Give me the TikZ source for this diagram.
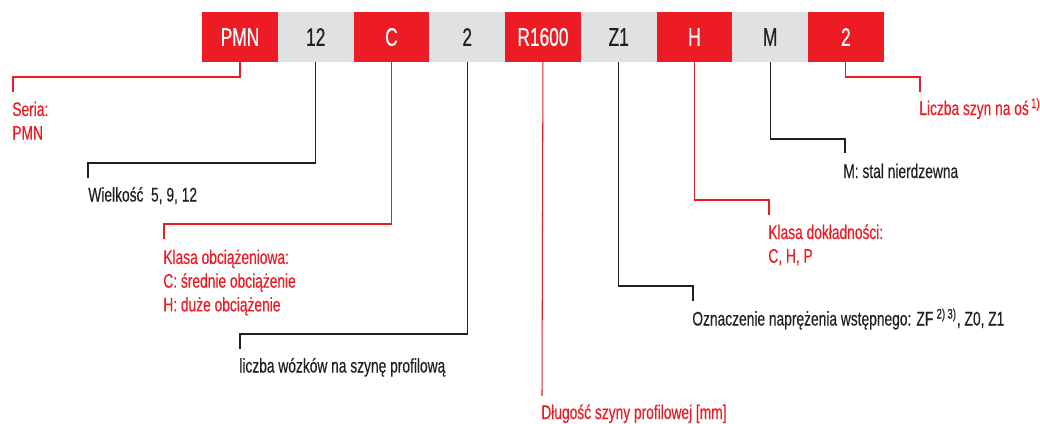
\documentclass[tikz,border=0pt]{standalone}
\usepackage{fontspec}
\setmainfont[FakeStretch=0.70,FakeBold=0.4]{Liberation Sans}
\newfontfamily\boxfont[FakeStretch=0.68,FakeBold=0.4]{Liberation Sans}
\usetikzlibrary{positioning}
\definecolor{codered}{RGB}{237,28,36}
\definecolor{codegrey}{RGB}{224,225,227}
\definecolor{codeink}{RGB}{35,31,32}

\begin{document}
\begin{tikzpicture}[x=0.02cm,y=-0.02cm,
  codebox/.style={minimum width=1.515cm,minimum height=1.0cm,inner sep=0pt,outer sep=0pt,
    font=\boxfont\fontsize{14.5}{16}\selectfont},
  redbox/.style={codebox,fill=codered,text=white},
  greybox/.style={codebox,fill=codegrey,text=codeink},
  redline/.style={codered,line width=0.6pt},
  inkline/.style={codeink,line width=0.6pt},
  lbl/.style={anchor=base west,inner sep=0pt,align=left,
    font=\fontsize{11.2}{13.5}\selectfont},
  redlbl/.style={lbl,text=codered},
  inklbl/.style={lbl,text=codeink}]
  \useasboundingbox (0,0) rectangle (1040,423);

  % the code boxes
  \node[redbox] (pmn) at (240,37) {PMN};
  \node[greybox,right=0pt of pmn] (size) {12};
  \node[redbox,right=0pt of size] (load) {C};
  \node[greybox,right=0pt of load] (cars) {2};
  \node[redbox,right=0pt of cars] (rail) {R1600};
  \node[greybox,right=0pt of rail] (pre) {Z1};
  \node[redbox,right=0pt of pre] (acc) {H};
  \node[greybox,right=0pt of acc] (mat) {M};
  \node[redbox,right=0pt of mat] (rails) {2};

  % line ends
  \coordinate (e1) at (13,92);
  \coordinate (e2) at (88,178);
  \coordinate (e3) at (164,239);
  \coordinate (e4) at (240,349);
  \coordinate (e5) at (542,396);
  \coordinate (e6) at (693,301);
  \coordinate (e7) at (769,215);
  \coordinate (e8) at (845,153);
  \coordinate (e9) at (920,92);

  % labels (base = last line)
  \node[redlbl] (seria) at (12,139.7) {Seria:\\PMN};
  \node[inklbl] (wielk) at (88,201.5) {Wielkość\ \ 5, 9, 12};
  \node[redlbl] (klasa) at (163,311.4) {Klasa obciążeniowa:\\C: średnie obciążenie\\H: duże obciążenie};
  \node[inklbl] (liczba) at (239,372.5) {liczba wózków na szynę profilową};
  \node[redlbl] (dlug) at (541,419) {Długość szyny profilowej [mm]};
  \node[inklbl] (ozn) at (692,325.5) {Oznaczenie naprężenia wstępnego: ZF\,\textsuperscript{2)\,3)}, Z0, Z1};
  \node[redlbl] (dokl) at (768,262.7) {Klasa dokładności:\\C, H, P};
  \node[inklbl] (stal) at (843,178) {M: stal nierdzewna};
  \node[redlbl] (osie) at (919,115) {Liczba szyn na oś\textsuperscript{\,1)}};

  % connectors
  \draw[redline] (pmn.south) -- ++(0,15) -| (e1);
  \draw[inkline] (size.south) -- ++(0,101) -| (e2);
  \draw[redline] (load.south) -- ++(0,162) -| (e3);
  \draw[inkline] (cars.south) -- ++(0,272) -| (e4);
  \draw[redline] (rail.south) -- (e5);
  \draw[inkline] (pre.south) -- ++(0,224) -| (e6);
  \draw[redline] (acc.south) -- ++(0,138) -| (e7);
  \draw[inkline] (mat.south) -- ++(0,77) -| (e8);
  \draw[redline] (rails.south) -- ++(0,15) -| (e9);
\end{tikzpicture}
\end{document}
